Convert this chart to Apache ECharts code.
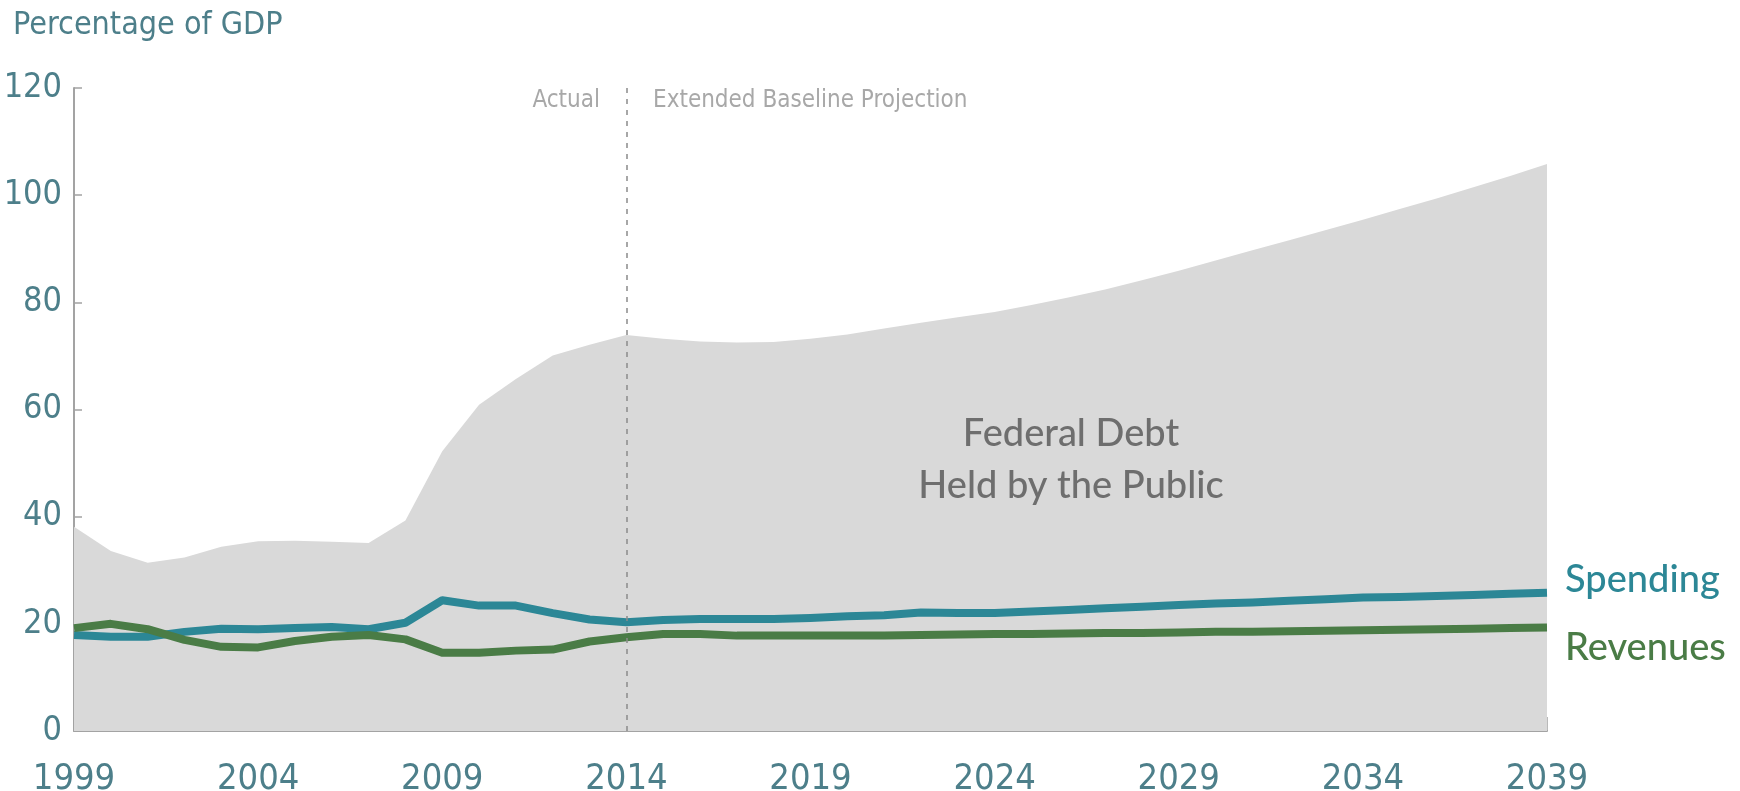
<!DOCTYPE html>
<html>
<head>
<meta charset="utf-8">
<title>Federal Debt, Spending and Revenues</title>
<script src="https://cdn.jsdelivr.net/npm/echarts@6/dist/echarts.min.js"></script>
<style>
  html, body { margin: 0; padding: 0; background: #fff; }
  #chart { width: 1740px; height: 791px; }
</style>
</head>
<body>
<div id="chart"></div>
<script>
// years on the x axis
const years = []
for (let y = 1999; y <= 2039; y++) years.push(String(y))

// federal debt held by the public, % of GDP
const debt = [
  38.1, 33.6, 31.4, 32.4, 34.4, 35.4, 35.5, 35.3, 35.1, 39.3,
  52.2, 60.9, 65.7, 70.1, 72.1, 73.9, 73.2, 72.7, 72.5, 72.6,
  73.2, 74.0, 75.1, 76.2, 77.2, 78.2, 79.5, 80.9, 82.4, 84.1,
  85.9, 87.8, 89.7, 91.6, 93.5, 95.4, 97.4, 99.4, 101.5, 103.6,
  105.8
]

// total spending, % of GDP
const spending = [
  17.9, 17.6, 17.6, 18.5, 19.1, 19.0, 19.2, 19.4, 19.0, 20.2,
  24.4, 23.4, 23.4, 22.0, 20.8, 20.3, 20.7, 20.9, 20.9, 20.9,
  21.1, 21.4, 21.6, 22.1, 22.0, 22.0, 22.3, 22.6, 22.9, 23.2,
  23.5, 23.8, 24.0, 24.3, 24.6, 24.9, 25.0, 25.2, 25.4, 25.6,
  25.8
]

// total revenues, % of GDP
const revenues = [
  19.2, 20.0, 19.0, 17.0, 15.7, 15.6, 16.8, 17.6, 17.9, 17.1,
  14.6, 14.6, 15.0, 15.2, 16.7, 17.5, 18.1, 18.1, 17.8, 17.8,
  17.8, 17.8, 17.8, 17.9, 18.0, 18.1, 18.1, 18.2, 18.3, 18.3,
  18.4, 18.5, 18.5, 18.6, 18.7, 18.8, 18.9, 19.0, 19.1, 19.2,
  19.3
]

const splitYear = '2014'

const narrow = '"Liberation Sans Narrow", "DejaVu Sans Condensed", sans-serif'
const round = 'Lato, "Noto Sans", sans-serif'
const axisColor = '#4d7f8a'

const chart = echarts.init(document.getElementById('chart'), null, { renderer: 'canvas' })

chart.setOption({
  backgroundColor: '#fff',
  animation: false,
  // keep the plot box fixed, labels may sit near the canvas edge
  grid: { left: 74, right: 193, top: 88, bottom: 60, outerBoundsMode: 'none', containLabel: false },
  xAxis: {
    type: 'category',
    data: years,
    boundaryGap: false,
    axisLine: { lineStyle: { color: '#a3a3a3', width: 2 } },
    axisTick: { show: true, inside: true, length: 14, interval: 4, lineStyle: { color: '#a3a3a3', width: 1.5 } },
    axisLabel: { interval: 4, color: axisColor, fontFamily: narrow, fontSize: 36, margin: 31 },
    splitLine: { show: false }
  },
  yAxis: {
    type: 'value',
    min: 0,
    max: 120,
    interval: 20,
    axisLine: { show: true, lineStyle: { color: '#a3a3a3', width: 2 } },
    axisTick: { show: true, inside: true, length: 8, lineStyle: { color: '#a3a3a3', width: 1.5 } },
    axisLabel: { color: axisColor, fontFamily: narrow, fontSize: 34, margin: 12 },
    splitLine: { show: false }
  },
  series: [
    {
      name: 'Federal Debt Held by the Public',
      type: 'line',
      data: debt,
      symbol: 'none',
      lineStyle: { width: 0 },
      areaStyle: { color: '#d9d9d9', opacity: 1 },
      z: 1,
      markLine: {
        silent: true,
        symbol: 'none',
        label: { show: false },
        lineStyle: { color: '#8a8a8a', width: 1.5, type: [5, 6] },
        data: [{ xAxis: splitYear }]
      }
    },
    {
      name: 'Spending',
      type: 'line',
      data: spending,
      symbol: 'none',
      lineStyle: { color: '#2c8796', width: 8, cap: 'butt', join: 'round' },
      z: 3
    },
    {
      name: 'Revenues',
      type: 'line',
      data: revenues,
      symbol: 'none',
      lineStyle: { color: '#4a7c46', width: 8, cap: 'butt', join: 'round' },
      z: 3
    }
  ],
  graphic: [
    {
      type: 'text', left: 13, top: 10,
      style: { text: 'Percentage of GDP', fill: axisColor, font: '32px ' + narrow }
    },
    {
      type: 'text', right: 1740 - 600, top: 89,
      style: { text: 'Actual', fill: '#a8a8a8', font: '24px ' + narrow }
    },
    {
      type: 'text', left: 653, top: 89,
      style: { text: 'Extended Baseline Projection', fill: '#a8a8a8', font: '24px ' + narrow }
    },
    {
      type: 'text', x: 1071, y: 408, z: 10,
      style: {
        text: 'Federal Debt\nHeld by the Public',
        fill: '#6e6e6e',
        font: '500 38px ' + round,
        align: 'center',
        verticalAlign: 'top',
        lineHeight: 52
      }
    },
    {
      type: 'text', left: 1565, top: 561,
      style: { text: 'Spending', fill: '#2c8796', font: '500 38px ' + round }
    },
    {
      type: 'text', left: 1565, top: 629,
      style: { text: 'Revenues', fill: '#4a7c46', font: '500 38px ' + round }
    }
  ]
})
</script>
</body>
</html>
